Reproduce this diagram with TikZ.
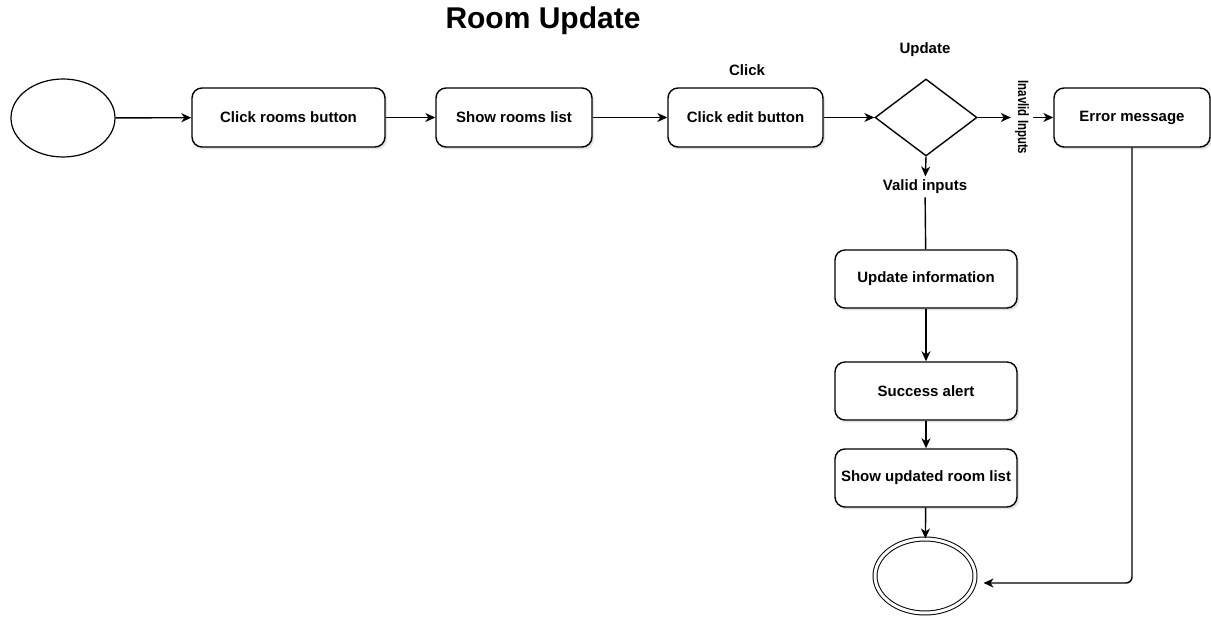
\documentclass[tikz,border=0pt]{standalone}
\usepackage{fontspec}
\setmainfont{Liberation Sans}
\usetikzlibrary{arrows.meta,shapes.geometric,shadows}
\begin{document}
\begin{tikzpicture}[x=1pt,y=-1pt,
  every node/.style={font=\fontsize{15}{18}\selectfont\bfseries},
  actbox/.style={draw=black, line width=1.4pt, fill=white, rounded corners=10pt,
    minimum width=156pt, minimum height=59pt, inner sep=2pt,
    drop shadow={shadow xshift=2pt, shadow yshift=-2.5pt, opacity=0.22, fill=gray}},
  startnode/.style={draw=black, line width=1.2pt, fill=white, ellipse,
    minimum width=104pt, minimum height=78pt},
  endnode/.style={draw=black, line width=1pt, ellipse, double, double distance=3pt,
    minimum width=100pt, minimum height=74pt, fill=white},
  decision/.style={draw=black, line width=1.4pt, diamond, fill=white,
    minimum width=102pt, minimum height=77pt, inner sep=0pt},
  flow/.style={line width=1.4pt, -{Stealth[length=10pt,width=9pt,inset=3pt]}},
  plainflow/.style={line width=1.4pt},
  lbl/.style={inner sep=3.3pt}
]
\useasboundingbox (0,0) rectangle (1211,617);

% title
\node[font=\fontsize{30}{35}\selectfont\bfseries] (title) at (543,21) {Room Update};

% main row
\node[startnode] (start) at (63,118) {};
\node[actbox, minimum width=193pt] (clickrooms) at (288.5,117.5) {Click rooms button};
\node[actbox] (showrooms) at (514,117.5) {Show rooms list};
\node[actbox, minimum width=155pt] (clickedit) at (745.5,117.5) {Click edit button};
\node[decision] (check) at (926,117.5) {};
\node[actbox] (errmsg) at (1132,117.5) {Error message};

% labels
\node[lbl] (clicklbl) at (747,70) {Click};
\node[lbl] (updlbl) at (925,50) {Update};
\node[lbl, inner sep=4pt, rotate=-90] (invalid) at (1022,117.5)
  {\scalebox{0.76}[1]{Inavlid Inputs}};
\node[lbl] (valid) at (925,187) {Valid inputs};

% vertical column
\node[actbox, minimum width=182pt, minimum height=58pt] (updinfo) at (926,279) {Update information};
\node[actbox, minimum width=182pt, minimum height=58pt] (success) at (926,391) {Success alert};
\node[actbox, minimum width=182pt, minimum height=58pt, inner sep=0pt] (showupd) at (926,478) {Show updated room list};
\node[endnode] (finish) at (925,576) {};

% connectors
\draw[flow] (start) -- (clickrooms);
\draw[flow] (clickrooms) -- (showrooms);
\draw[flow] (showrooms) -- (clickedit);
\draw[flow] (clickedit) -- (check);
\draw[flow] (check.east) -- (invalid);
\draw[flow] (invalid) -- (errmsg);
\draw[flow] (check.south) -- (valid);
\draw[plainflow] (valid) -- (updinfo);
\draw[flow] (updinfo) -- (success);
\draw[flow] (success) -- (showupd);
\draw[flow] (showupd) -- (finish);
\draw[flow, rounded corners=6pt] (errmsg.south) |- ([xshift=8pt,yshift=-7pt]finish.east);
\end{tikzpicture}
\end{document}
